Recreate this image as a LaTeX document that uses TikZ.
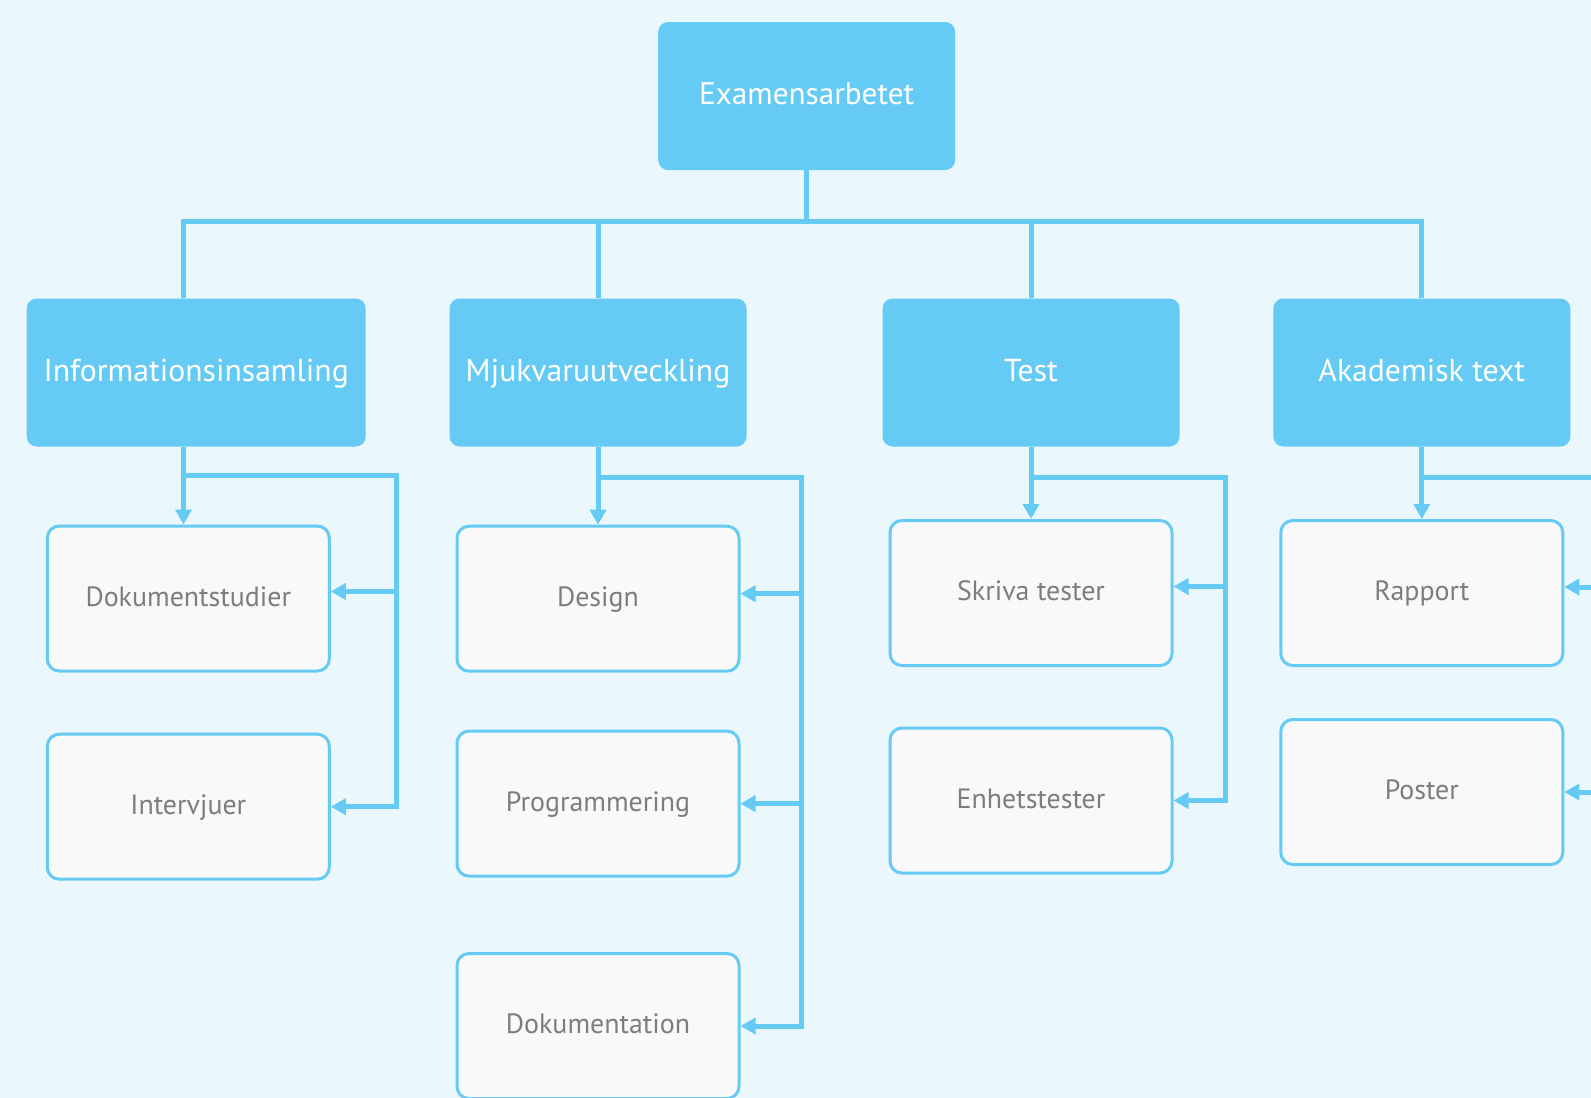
\documentclass[tikz,border=0pt]{standalone}
\usepackage{fontspec}
\setmainfont{PT Sans}
\usepackage{tikz}
\usetikzlibrary{arrows.meta}

\definecolor{skyblue}{RGB}{102,203,244}
\definecolor{paleblue}{RGB}{234,247,252}
\definecolor{boxwhite}{RGB}{249,249,249}
\definecolor{labelgrey}{RGB}{125,125,125}

\begin{document}
\begin{tikzpicture}[x=1pt,y=-1pt,
	top/.style={fill=skyblue,rounded corners=10pt,text=white,inner sep=0pt,
		minimum width=297pt,minimum height=148pt,
		font=\fontsize{31.2}{36}\selectfont,text height=21pt,text depth=5pt},
	main/.style={top,font=\fontsize{31.7}{36}\selectfont,text height=22pt,text depth=4pt},
	sub/.style={draw=skyblue,line width=3pt,fill=boxwhite,rounded corners=12pt,
		text=labelgrey,inner sep=0pt,minimum width=282pt,minimum height=145pt,
		font=\fontsize{27.9}{32}\selectfont,text height=19pt,text depth=4pt},
	link/.style={skyblue,line width=5pt},
	arr/.style={link,-{Triangle[length=15pt,width=16pt]}}]
		\useasboundingbox (0,0) rectangle (1591,1098);
		\clip (0,0) rectangle (1591,1098);
		\fill[paleblue] (0,0) rectangle (1591,1098);
		
		%boxes
		\node[top] (root) at (806.7,96) {Examensarbetet};
		\node[main,minimum width=339pt] (info) at (196.2,372.5) {Informationsinsamling};
		\node[main] (mjuk) at (598,372.5) {Mjukvaruutveckling};
		\node[main] (test) at (1031,372.5) {Test};
		\node[main] (akad) at (1421.8,372.5) {Akademisk text};
		
		\node[sub] (dok) at (188.3,598.5) {Dokumentstudier};
		\node[sub] (intv) at (188.3,806.7) {Intervjuer};
		\node[sub] (design) at (598,598.7) {Design};
		\node[sub] (prog) at (598,803.6) {Programmering};
		\node[sub] (dokum) at (598,1026) {Dokumentation};
		\node[sub] (skriva) at (1031,593) {Skriva tester};
		\node[sub] (enhet) at (1031,800.5) {Enhetstester};
		\node[sub] (rapport) at (1421.8,593) {Rapport};
		\node[sub] (poster) at (1421.8,792) {Poster};
		
		%tree under the root
		\coordinate (bar) at (806.7,221);
		\coordinate (infoStem) at ([xshift=-12.7pt]info.north);
		\draw[link] (root.south) -- (bar);
		\draw[link] (infoStem) |- (bar) -| (akad.north);
		\draw[link] (mjuk.north) -- (mjuk.north |- bar);
		\draw[link] (test.north) -- (test.north |- bar);
		
		%Informationsinsamling
		\coordinate (infoFork) at (396,475);
		\coordinate (infoOut) at ([xshift=-12.7pt]info.south);
		\coordinate (dokIn) at ([yshift=7pt]dok.east);
		\draw[arr] (infoOut) -- (infoOut |- dok.north);
		\draw[arr] (infoOut |- infoFork) -| (infoFork |- intv.east) -- (intv.east);
		\draw[arr] (infoFork |- dokIn) -- (dokIn);
		
		%Mjukvaruutveckling
		\coordinate (mjukFork) at (801,477);
		\coordinate (designIn) at ([yshift=5pt]design.east);
		\draw[arr] (mjuk.south) -- (design.north);
		\draw[arr] (mjuk.south |- mjukFork) -| (mjukFork |- dokum.east) -- (dokum.east);
		\draw[arr] (mjukFork |- designIn) -- (designIn);
		\draw[arr] (mjukFork |- prog.east) -- (prog.east);
		
		%Test
		\coordinate (testFork) at (1225,477);
		\coordinate (skrivaIn) at ([yshift=6.5pt]skriva.east);
		\draw[arr] (test.south) -- (skriva.north);
		\draw[arr] (test.south |- testFork) -| (testFork |- enhet.east) -- (enhet.east);
		\draw[arr] (testFork |- skrivaIn) -- (skrivaIn);
		
		%Akademisk text, rail runs past the right edge
		\coordinate (akadFork) at (1625,477);
		\coordinate (rapportIn) at ([yshift=6pt]rapport.east);
		\draw[arr] (akad.south) -- (rapport.north);
		\draw[link] (akad.south |- akadFork) -- (akadFork);
		\draw[arr] (akadFork |- rapportIn) -- (rapportIn);
		\draw[arr] (akadFork |- poster.east) -- (poster.east);
\end{tikzpicture}
\end{document}
